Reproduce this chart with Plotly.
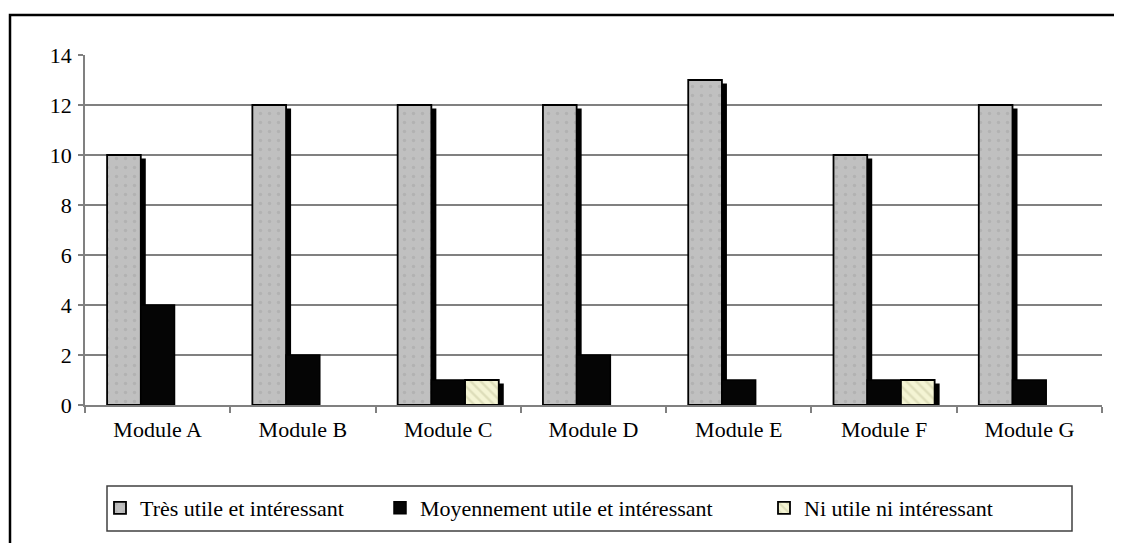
import plotly.graph_objects as go

categories = ["Module A", "Module B", "Module C", "Module D", "Module E", "Module F", "Module G"]
tres_utile = [10, 12, 12, 12, 13, 10, 12]
moyennement = [4, 2, 1, 2, 1, 1, 1]
ni_utile = [0, 0, 1, 0, 0, 1, 0]
series_names = ["Très utile et intéressant", "Moyennement utile et intéressant", "Ni utile ni intéressant"]
y_ticks = [0, 2, 4, 6, 8, 10, 12, 14]

OFF = 8  # page body margin
W, H = 1122 - OFF, 543 - OFF
L, T = 85 - OFF, 55 - OFF
PW, PH = 1017, 350
R, B = W - L - PW, H - T - PH
FONT = "Liberation Serif"

def px_x(px):
    return (px - OFF - L) / PW

def px_y(py):
    return (T + PH - (py - OFF)) / PH

bw = 0.232
offsets = [-1.5 * bw, -0.5 * bw, 0.5 * bw]
sh_dx = 5 / (PW / len(categories))
sh_dy = 3.5 / (PH / 14)

def nz(vals):
    return [v if v > 0 else None for v in vals]

fig = go.Figure()

# drop shadows (drawn first)
for vals, off in [(tres_utile, offsets[0]), (ni_utile, offsets[2])]:
    fig.add_trace(go.Bar(
        x=categories, y=[v - sh_dy if v > 0 else None for v in vals],
        width=bw, offset=off + sh_dx,
        marker=dict(color="black", line=dict(width=0)),
        showlegend=False, hoverinfo="skip"))

fig.add_trace(go.Bar(
    x=categories, y=nz(tres_utile), name=series_names[0], width=bw, offset=offsets[0],
    marker=dict(color="#c0c0c0", line=dict(color="black", width=1.8),
                pattern=dict(shape=".", bgcolor="#c0c0c0", fgcolor="#a4a4a4", size=9, solidity=0.12)),
    legend="legend"))
fig.add_trace(go.Bar(
    x=categories, y=nz(moyennement), name=series_names[1], width=bw, offset=offsets[1],
    marker=dict(color="#050505", line=dict(color="black", width=1.5)),
    legend="legend2"))
fig.add_trace(go.Bar(
    x=categories, y=nz(ni_utile), name=series_names[2], width=bw, offset=offsets[2],
    marker=dict(color="#f4f4d4", line=dict(color="black", width=1.8),
                pattern=dict(shape="\\", bgcolor="#f4f4d4", fgcolor="#c8c8a0", size=7, solidity=0.35)),
    legend="legend3"))

legend_common = dict(orientation="h", yanchor="middle", y=px_y(508), xanchor="left",
                     font=dict(family=FONT, size=22, color="black"),
                     bgcolor="rgba(0,0,0,0)", borderwidth=0)

fig.update_layout(
    width=W, height=H,
    margin=dict(l=L, r=R, t=T, b=B),
    paper_bgcolor="white", plot_bgcolor="white",
    barmode="overlay",
    font=dict(family=FONT, size=22, color="black"),
    legend=dict(x=px_x(142 - 42), **legend_common),
    legend2=dict(x=px_x(422 - 42), **legend_common),
    legend3=dict(x=px_x(806 - 42), **legend_common),
    xaxis=dict(type="category", categoryorder="array", categoryarray=categories,
               showline=True, linecolor="#808080", linewidth=1.5,
               ticks="outside", tickson="boundaries", ticklen=6, tickcolor="#808080", tickwidth=1.5,
               showgrid=False, tickfont=dict(family=FONT, size=22, color="black"),
               ticklabelstandoff=4),
    yaxis=dict(range=[0, 14], tickvals=y_ticks, showline=True, linecolor="#808080", linewidth=1.5,
               ticks="outside", ticklen=5, tickcolor="#808080", tickwidth=1.5,
               showgrid=True, gridcolor="#808080", gridwidth=1.5, zeroline=False,
               tickfont=dict(family=FONT, size=22, color="black"), ticklabelstandoff=2),
    shapes=[
        dict(type="rect", xref="paper", yref="paper",
             x0=px_x(10), x1=px_x(1135), y0=px_y(560), y1=px_y(15),
             line=dict(color="black", width=2.5), fillcolor="rgba(0,0,0,0)", layer="above"),
        dict(type="rect", xref="paper", yref="paper",
             x0=px_x(107), x1=px_x(1072), y0=px_y(531), y1=px_y(486),
             line=dict(color="#404040", width=1.5), fillcolor="rgba(0,0,0,0)", layer="below"),
    ],
)

fig.write_html("out.html")
